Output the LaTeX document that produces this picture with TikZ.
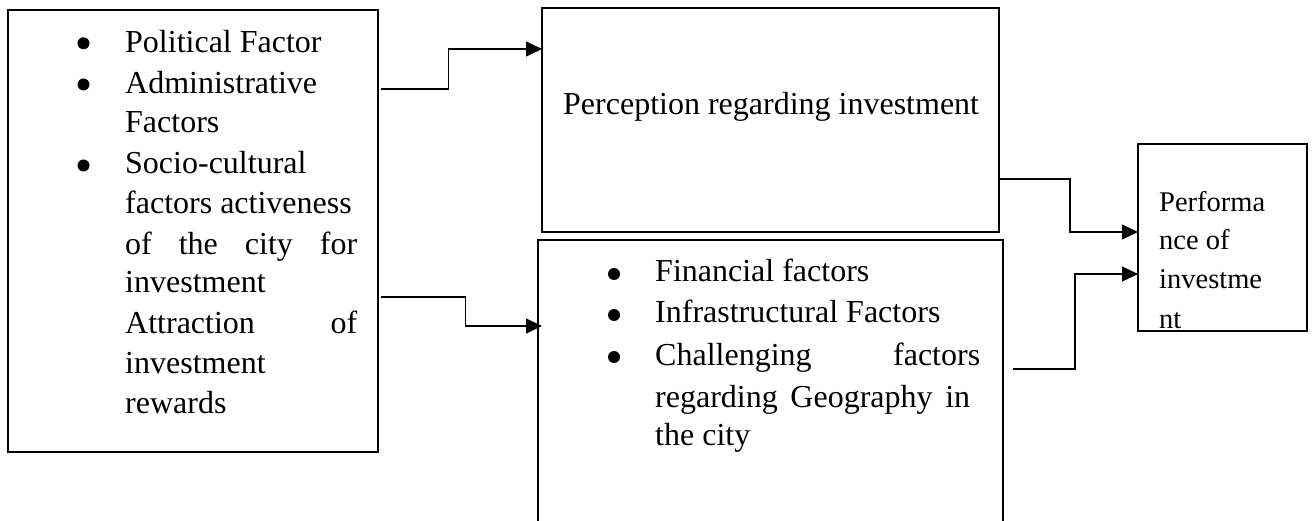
\documentclass[tikz,border=0pt]{standalone}
\usepackage{fontspec}
\setmainfont{Liberation Serif}
\usetikzlibrary{arrows.meta,calc}
\begin{document}
\begin{tikzpicture}[x=1pt,y=-1pt,
  box/.style={draw,line width=2.8pt,rectangle,inner sep=0pt,outer sep=0pt,anchor=north west},
  conn/.style={line width=1.2pt,-{Triangle[length=16pt,width=15pt]}},
  txt/.style={anchor=base west,inner sep=0pt,font=\fontsize{32}{40}\selectfont},
  smalltxt/.style={anchor=base west,inner sep=0pt,font=\fontsize{28.5}{38}\selectfont},
  bul/.style={circle,fill,inner sep=0pt,minimum size=12pt}]
\useasboundingbox (0,0) rectangle (1314,521);
\clip (0,0) rectangle (1314,521);

% boxes
\node[box,minimum width=370pt,minimum height=442pt] (L) at (8,10) {};
\node[box,minimum width=457pt,minimum height=224pt] (P) at (542,8) {};
\node[box,minimum width=465pt,minimum height=320pt] (B) at (538,240) {};
\node[box,minimum width=169pt,minimum height=187pt] (R) at (1138,144) {};

% left box text
\node[bul] (lb1) at (83.5,43.3) {};
\node[bul] (lb2) at (83.5,84.5) {};
\node[bul] (lb3) at (83.5,165.5) {};
\node[txt] (l1) at (125,52.3) {Political Factor};
\node[txt] (l2) at (125,93.3) {Administrative};
\node[txt] (l3) at (125,132.7) {Factors};
\node[txt] (l4) at (125,174) {Socio-cultural};
\node[txt] (l5) at (125,214) {factors activeness};
\node[txt] (l6) at (125,255) {\makebox[232pt][s]{of the city for}};
\node[txt] (l7) at (125,293) {investment};
\node[txt] (l8) at (125,333) {\makebox[232pt][s]{Attraction of}};
\node[txt] (l9) at (125,373) {investment};
\node[txt] (l10) at (125,413) {rewards};

% perception box text
\node[txt] (p1) at (563,115) {Perception regarding investment};

% lower middle box text
\node[bul] (bb1) at (614,274) {};
\node[bul] (bb2) at (614,315) {};
\node[bul] (bb3) at (614,357) {};
\node[txt] (b1) at (655,282) {Financial factors};
\node[txt] (b2) at (655,323) {Infrastructural Factors};
\node[txt] (b3) at (655,365) {\makebox[325pt][s]{Challenging factors}};
\node[txt] (b4) at (655,407) {\makebox[315pt][s]{regarding Geography in}};
\node[txt] (b5) at (655,445) {the city};

% right box text
\node[smalltxt] (r1) at (1159,212) {Performa};
\node[smalltxt] (r2) at (1159,250) {nce of};
\node[smalltxt] (r3) at (1159,288) {investme};
\node[smalltxt] (r4) at (1159,328) {nt};

% connectors
\draw[conn] ($(L.north east)+(3,79)$) -- ++(67.5,0) |- ($(P.north west)+(0,41)$);
\draw[conn] ($(L.north east)+(3,287)$) -- ++(84.5,0) |- ($(B.north west)+(4,86)$);
\draw[conn] ($(P.north east)+(1,171)$) -- ++(70,0) |- ($(R.north west)+(0,88)$);
\draw[conn] ($(B.north east)+(10,129)$) -- ++(62,0) |- ($(R.north west)+(0,130)$);
\end{tikzpicture}
\end{document}
